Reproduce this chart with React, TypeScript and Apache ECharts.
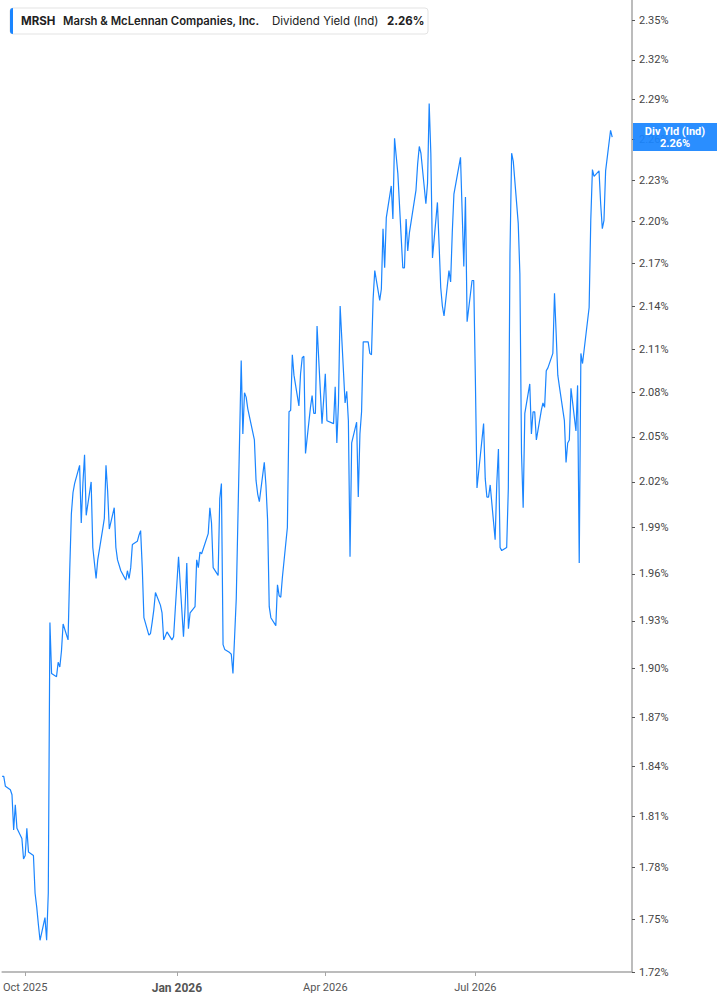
import { useEffect, useRef } from "react";
import * as echarts from "echarts";

const TICKER = "MRSH";
const COMPANY = "Marsh & McLennan Companies, Inc.";
const METRIC = "Dividend Yield (Ind)";
const SHORT_METRIC = "Div Yld (Ind)";

const START_DATE = "2025-09-17";
const HOLIDAYS = [
  "2025-11-27", "2025-12-25", "2026-01-01", "2026-01-19", "2026-02-16",
  "2026-04-03", "2026-05-25", "2026-06-19", "2026-07-03", "2026-09-07",
];

// dividend yield (%), one value per trading day
const yieldValues = [
  1.834, 1.834, 1.828, 1.826, 1.823, 1.802, 1.817, 1.803, 1.797, 1.785,
  1.787, 1.803, 1.789, 1.787, 1.765, 1.757, 1.747, 1.738, 1.751, 1.738,
  1.765, 1.929, 1.897, 1.895, 1.904, 1.901, 1.911, 1.928, 1.918, 1.962,
  1.999, 2.013, 2.019, 2.031, 1.993, 2.019, 2.038, 1.998, 2.020, 1.977,
  1.967, 1.957, 1.969, 1.989, 1.996, 2.031, 2.014, 1.989, 2.003, 1.977,
  1.969, 1.962, 1.956, 1.962, 1.957, 1.964, 1.979, 1.981, 1.985, 1.988,
  1.964, 1.932, 1.921, 1.922, 1.929, 1.937, 1.948, 1.940, 1.935, 1.918,
  1.923, 1.918, 1.920, 1.937, 1.971, 1.920, 1.939, 1.967, 1.925, 1.935,
  1.939, 1.969, 1.964, 1.974, 1.973, 1.986, 2.003, 1.993, 1.964, 1.959,
  2.009, 2.019, 1.915, 1.912, 1.910, 1.909, 1.897, 1.920, 1.944, 2.102,
  2.052, 2.080, 2.077, 2.069, 2.048, 2.021, 2.012, 2.007, 2.033, 2.018,
  1.995, 1.939, 1.932, 1.927, 1.953, 1.946, 1.945, 1.958, 1.990, 2.067,
  2.068, 2.106, 2.092, 2.071, 2.093, 2.104, 2.105, 2.039, 2.070, 2.078,
  2.066, 2.066, 2.126, 2.059, 2.075, 2.093, 2.061, 2.059, 2.084, 2.046,
  2.073, 2.140, 2.073, 2.081, 2.061, 1.971, 2.046, 2.060, 2.010, 2.052,
  2.067, 2.115, 2.115, 2.107, 2.106, 2.145, 2.165, 2.144, 2.152, 2.195,
  2.167, 2.203, 2.226, 2.202, 2.261, 2.248, 2.235, 2.167, 2.167, 2.202,
  2.179, 2.192, 2.223, 2.242, 2.255, 2.250, 2.213, 2.228, 2.287, 2.250,
  2.174, 2.214, 2.184, 2.153, 2.140, 2.133, 2.165, 2.157, 2.192, 2.220,
  2.247, 2.207, 2.168, 2.218, 2.129, 2.158, 2.158, 2.090, 2.016, 2.059,
  2.022, 2.010, 2.010, 2.018, 1.982, 2.019, 2.042, 1.977, 1.975, 1.977,
  2.016, 2.177, 2.250, 2.244, 2.199, 2.163, 2.039, 2.003, 2.066, 2.086,
  2.052, 2.067, 2.067, 2.048, 2.068, 2.073, 2.070, 2.095, 2.097, 2.107,
  2.149, 2.121, 2.092, 2.084, 2.061, 2.033, 2.046, 2.048, 2.083, 2.054,
  2.085, 1.967, 2.107, 2.100, 2.139, 2.201, 2.238, 2.233, 2.237, 2.213,
  2.195, 2.201, 2.237, 2.267, 2.262,
];

const yTicks = [
  1.72, 1.75, 1.78, 1.81, 1.84, 1.87, 1.9, 1.93, 1.96, 1.99, 2.02,
  2.05, 2.08, 2.11, 2.14, 2.17, 2.2, 2.23, 2.26, 2.29, 2.32, 2.35,
];
const Y_MIN = 1.72;
const Y_MAX = 2.366;

const xTickDates = ["2025-10-01", "2026-01-01", "2026-04-01", "2026-07-01"];
const X_MAX_DATE = "2026-10-04";
const MONTHS = ["Jan", "Feb", "Mar", "Apr", "May", "Jun", "Jul", "Aug", "Sep", "Oct", "Nov", "Dec"];

const BLUE = "#1a85ff";

function toTs(iso: string) {
  return Date.parse(iso + "T00:00:00Z");
}

function tradingDays(start: string, n: number): number[] {
  const out: number[] = [];
  const d = new Date(start + "T00:00:00Z");
  while (out.length < n) {
    const dow = d.getUTCDay();
    const iso = d.toISOString().slice(0, 10);
    if (dow !== 0 && dow !== 6 && !HOLIDAYS.includes(iso)) out.push(d.getTime());
    d.setUTCDate(d.getUTCDate() + 1);
  }
  return out;
}

export default function App() {
  const ref = useRef<HTMLDivElement>(null);

  useEffect(() => {
    if (!ref.current) return;
    const chart = echarts.init(ref.current, null, { renderer: "svg" });
    const dates = tradingDays(START_DATE, yieldValues.length);
    const data = dates.map((t, i) => [t, Math.log(yieldValues[i])]);
    const last = yieldValues[yieldValues.length - 1];
    const lastText = last.toFixed(2) + "%";
    const xTicks = xTickDates.map(toTs);

    chart.setOption({
      animation: false,
      backgroundColor: "#ffffff",
      grid: { left: 0, right: 85, top: 0, bottom: 33, containLabel: false },
      xAxis: {
        type: "value",
        min: dates[0],
        max: toTs(X_MAX_DATE),
        axisLine: { show: true, lineStyle: { color: "#a6a6a6", width: 1.5 } },
        axisTick: {
          show: true,
          length: 4,
          customValues: xTicks,
          lineStyle: { color: "#a6a6a6" },
        },
        axisLabel: {
          customValues: xTicks,
          margin: 10,
          fontFamily: "Roboto",
          fontSize: 11,
          color: "#555555",
          formatter: (v: number) => {
            const d = new Date(v);
            const s = MONTHS[d.getUTCMonth()] + " " + d.getUTCFullYear();
            return d.getUTCMonth() === 0 ? "{b|" + s + "}" : s;
          },
          rich: {
            b: { fontFamily: "Roboto", fontSize: 12, fontWeight: "bold", color: "#555555" },
          },
        },
        splitLine: { show: false },
      },
      yAxis: {
        type: "value",
        position: "right",
        min: Math.log(Y_MIN),
        max: Math.log(Y_MAX),
        axisLine: { show: true, lineStyle: { color: "#a6a6a6", width: 1.5 } },
        axisTick: {
          show: true,
          inside: false,
          length: 3,
          customValues: yTicks.map((v) => Math.log(v)),
          lineStyle: { color: "#555555" },
        },
        axisLabel: {
          customValues: yTicks.map((v) => Math.log(v)),
          margin: 7,
          fontFamily: "Roboto",
          fontSize: 11,
          color: "#444444",
          formatter: (v: number) => Math.exp(v).toFixed(2) + "%",
        },
        splitLine: { show: false },
      },
      series: [
        {
          type: "line",
          data,
          showSymbol: false,
          symbol: "none",
          lineStyle: { color: BLUE, width: 1.2 },
          clip: true,
        },
      ],
    });

    const yLast = chart.convertToPixel({ yAxisIndex: 0 }, Math.log(last)) as number;
    const axisX = 632;

    chart.setOption({
      graphic: [
        {
          type: "rect",
          shape: { x: 10, y: 8, width: 418, height: 26, r: 3 },
          style: { fill: "#ffffff", stroke: "#e3e3e3", lineWidth: 1 },
          z: 100,
        },
        {
          type: "rect",
          shape: { x: 10, y: 8, width: 3, height: 26, r: [3, 0, 0, 3] },
          style: { fill: BLUE },
          z: 101,
        },
        {
          type: "text",
          x: 21, y: 21, z: 102,
          style: { text: TICKER, fill: "#222222", font: "bold 11.5px Inter", verticalAlign: "middle" },
        },
        {
          type: "text",
          x: 63, y: 21, z: 102,
          style: { text: COMPANY, fill: "#222222", font: "600 11.3px Inter", verticalAlign: "middle" },
        },
        {
          type: "text",
          x: 272, y: 21, z: 102,
          style: { text: METRIC, fill: "#222222", font: "normal 11.5px Inter", verticalAlign: "middle" },
        },
        {
          type: "text",
          x: 387, y: 21, z: 102,
          style: { text: lastText, fill: "#222222", font: "bold 11.5px Inter", verticalAlign: "middle" },
        },
        {
          type: "rect",
          shape: { x: axisX + 1, y: yLast - 14, width: 717 - axisX, height: 28 },
          style: { fill: BLUE, opacity: 0.93 },
          z: 100,
        },
        {
          type: "text",
          x: axisX + 43, y: yLast, z: 101,
          style: {
            text: SHORT_METRIC + "\n" + lastText,
            fill: "#ffffff",
            font: "bold 11px Roboto",
            align: "center",
            verticalAlign: "middle",
            lineHeight: 12,
          },
        },
      ],
    });

    return () => chart.dispose();
  }, []);

  return (
    <div
      ref={ref}
      style={{ position: "fixed", left: 0, top: 0, width: 717, height: 1005 }}
    />
  );
}
